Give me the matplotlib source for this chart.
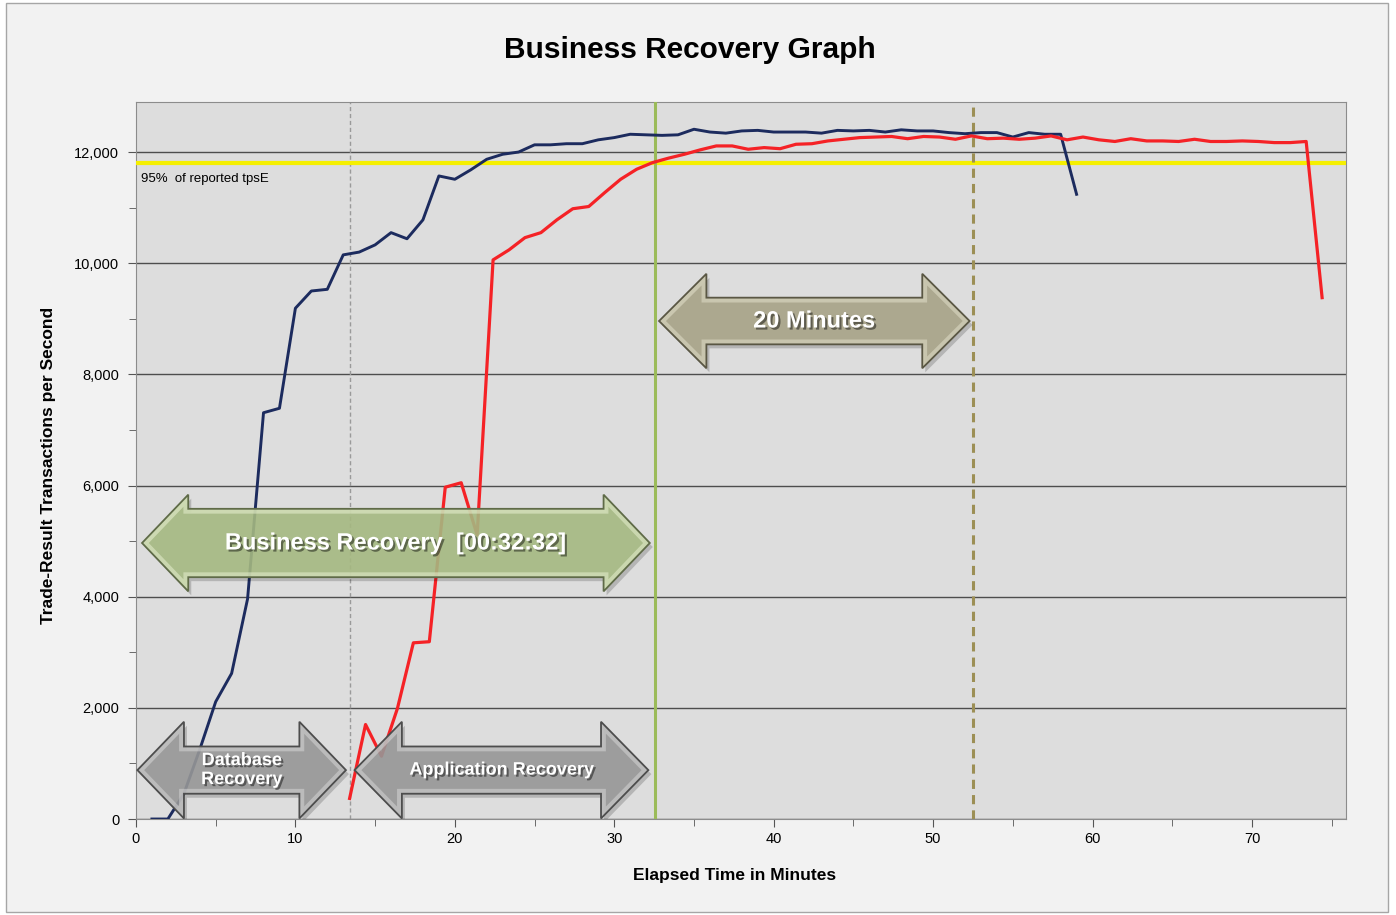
import numpy as np
import matplotlib
matplotlib.use("Agg")
import matplotlib.pyplot as plt
import matplotlib.patheffects as pe
from matplotlib.patches import Polygon, Rectangle
from matplotlib.ticker import MultipleLocator, FuncFormatter
from matplotlib.transforms import offset_copy

plt.rcParams['font.family'] = ['Liberation Sans', 'DejaVu Sans']

# database side (navy line), sampled once a minute
db_minutes = [1, 2, 3, 4, 5, 6, 7, 8, 9, 10, 11, 12, 13, 14, 15, 16, 17, 18, 19, 20,
              21, 22, 23, 24, 25, 26, 27, 28, 29, 30, 31, 32, 33, 34, 35, 36, 37, 38, 39, 40,
              41, 42, 43, 44, 45, 46, 47, 48, 49, 50, 51, 52, 53, 54, 55, 56, 57, 58, 59]
db_tps = [0, 0, 450, 1250, 2110, 2620, 3960, 7310, 7390, 9190, 9500, 9530, 10150, 10200, 10330,
          10550, 10440, 10780, 11570, 11510, 11680, 11870, 11960, 12000, 12130, 12130, 12150,
          12150, 12220, 12260, 12320, 12310, 12300, 12310, 12410, 12360, 12340, 12380, 12390,
          12360, 12360, 12360, 12340, 12390, 12380, 12390, 12360, 12400, 12380, 12380, 12350,
          12330, 12350, 12350, 12270, 12350, 12320, 12320, 11240]

# application side (red line)
app_minutes = [13.4, 14.4, 15.4, 16.4, 17.4, 18.4, 19.4, 20.4, 21.4, 22.4, 23.4, 24.4, 25.4,
               26.4, 27.4, 28.4, 29.4, 30.4, 31.4, 32.4, 33.4, 34.4, 35.4, 36.4, 37.4, 38.4,
               39.4, 40.4, 41.4, 42.4, 43.4, 44.4, 45.4, 46.4, 47.4, 48.4, 49.4, 50.4, 51.4,
               52.4, 53.4, 54.4, 55.4, 56.4, 57.4, 58.4, 59.4, 60.4, 61.4, 62.4, 63.4, 64.4,
               65.4, 66.4, 67.4, 68.4, 69.4, 70.4, 71.4, 72.4, 73.4, 74.4]
app_tps = [370, 1700, 1130, 1990, 3170, 3190, 5970, 6050, 5110, 10060, 10240, 10460, 10550,
           10780, 10980, 11020, 11270, 11510, 11690, 11810, 11890, 11960, 12040, 12110, 12110,
           12050, 12080, 12060, 12140, 12150, 12200, 12230, 12260, 12270, 12280, 12240, 12280,
           12270, 12230, 12290, 12240, 12250, 12230, 12250, 12290, 12220, 12270, 12220, 12190,
           12240, 12200, 12200, 12190, 12230, 12190, 12190, 12200, 12190, 12170, 12170, 12190,
           9380]

reported_95 = 11810          # 95% of reported tpsE
db_recovered = 13.4          # application start
business_recovered = 32.53   # 00:32:32
plus_20 = business_recovered + 20


def arrow_pts(x0, x1, yc, shaft_h, head_h, head_len):
    sh, hh = shaft_h / 2, head_h / 2
    return [(x0, yc), (x0 + head_len, yc + hh), (x0 + head_len, yc + sh),
            (x1 - head_len, yc + sh), (x1 - head_len, yc + hh), (x1, yc),
            (x1 - head_len, yc - hh), (x1 - head_len, yc - sh),
            (x0 + head_len, yc - sh), (x0 + head_len, yc - hh)]


def block_arrow(ax, x0, x1, yc, shaft_h, head_h, head_len, face, edge, light,
                label, fontsize, spacing=1.0):
    pts = arrow_pts(x0, x1, yc, shaft_h, head_h, head_len)
    shadow_tr = offset_copy(ax.transData, fig=ax.figure, x=3, y=-4, units='dots')
    ax.add_patch(Polygon(pts, closed=True, fc='black', ec='none', alpha=0.18,
                         transform=shadow_tr, zorder=5))
    body = Polygon(pts, closed=True, fc=face, ec='none', alpha=0.88, zorder=6)
    ax.add_patch(body)
    # bevel: light rim inside the edge, then a dark outline
    rim = Polygon(pts, closed=True, fill=False, ec=light, lw=7, alpha=0.55, zorder=7)
    ax.add_patch(rim)
    rim.set_clip_path(body)
    ax.add_patch(Polygon(pts, closed=True, fill=False, ec=edge, lw=1.3, zorder=7))
    ax.text((x0 + x1) / 2, yc, label, ha='center', va='center', color='white',
            fontsize=fontsize, fontweight='bold', zorder=8, linespacing=spacing,
            path_effects=[pe.withSimplePatchShadow(offset=(1.5, -1.5),
                                                   shadow_rgbFace='black', alpha=0.45)])


fig = plt.figure(figsize=(13.96, 9.15), dpi=100)
fig.patch.set_facecolor('white')
fig.patches.append(Rectangle((0.004, 0.003), 0.99, 0.994, transform=fig.transFigure,
                             fc='#f2f2f2', ec='#a6a6a6', lw=1, zorder=-10))

ax = fig.add_axes([0.0974, 0.1049, 0.8668, 0.7836])
ax.set_facecolor('#dddddd')
ax.set_xlim(0, 75.9)
ax.set_ylim(0, 12900)

ax.yaxis.set_major_locator(MultipleLocator(2000))
ax.yaxis.set_minor_locator(MultipleLocator(1000))
ax.xaxis.set_major_locator(MultipleLocator(10))
ax.xaxis.set_minor_locator(MultipleLocator(5))
ax.yaxis.set_major_formatter(FuncFormatter(lambda v, p: f"{int(v):,}"))
ax.tick_params(axis='both', which='both', direction='out', colors='#555555',
               labelcolor='black', labelsize=10.5)
ax.tick_params(axis='both', which='major', length=6)
ax.tick_params(axis='both', which='minor', length=5)
ax.tick_params(axis='y', pad=6)
ax.grid(axis='y', which='major', color='#4d4d4d', lw=1)
ax.set_axisbelow(True)
for s in ax.spines.values():
    s.set_color('#8c8c8c')

ax.axhline(reported_95, color='#f5ef00', lw=3, zorder=3)
ax.text(0.3, reported_95 - 180, '95%  of reported tpsE', fontsize=9.5, va='top',
        ha='left', zorder=3)
ax.axvline(db_recovered, color='#9a9a9a', lw=1, ls=(0, (3, 2)), zorder=2)
ax.axvline(business_recovered, color='#9bbb59', lw=2.2, zorder=3)
ax.axvline(plus_20, color='#9c8f55', lw=2.2, ls=(0, (3, 2)), zorder=3)

ax.plot(db_minutes, db_tps, color='#1c2b5e', lw=2.1, zorder=4)
ax.plot(app_minutes, app_tps, color='#f52226', lw=2.3, zorder=4)

block_arrow(ax, 0.38, 32.23, 4966, 1230, 1740, 2.9, '#a9bd84', '#5f6b48', '#e6eecf',
            'Business Recovery  [00:32:32]', 17)
block_arrow(ax, 0.09, 13.17, 880, 850, 1740, 2.92, '#9a9a9a', '#4d4d4d', '#d4d4d4',
            'Database\nRecovery', 13, spacing=1.15)
block_arrow(ax, 13.71, 32.14, 880, 850, 1740, 2.97, '#9a9a9a', '#4d4d4d', '#d4d4d4',
            'Application Recovery', 13)
block_arrow(ax, 32.81, 52.29, 8960, 840, 1700, 2.97, '#aba78a', '#5a5744', '#e0ddc8',
            '20 Minutes', 17)

fig.text(0.494, 0.945, 'Business Recovery Graph', ha='center', va='center',
         fontsize=21.5, fontweight='bold')
fig.text(0.5265, 0.0437, 'Elapsed Time in Minutes', ha='center', va='center',
         fontsize=12.5, fontweight='bold')
fig.text(0.0344, 0.4918, 'Trade-Result Transactions per Second', ha='center',
         va='center', rotation=90, fontsize=12.5, fontweight='bold')

fig.savefig('out.png', dpi=100, facecolor=fig.get_facecolor())
